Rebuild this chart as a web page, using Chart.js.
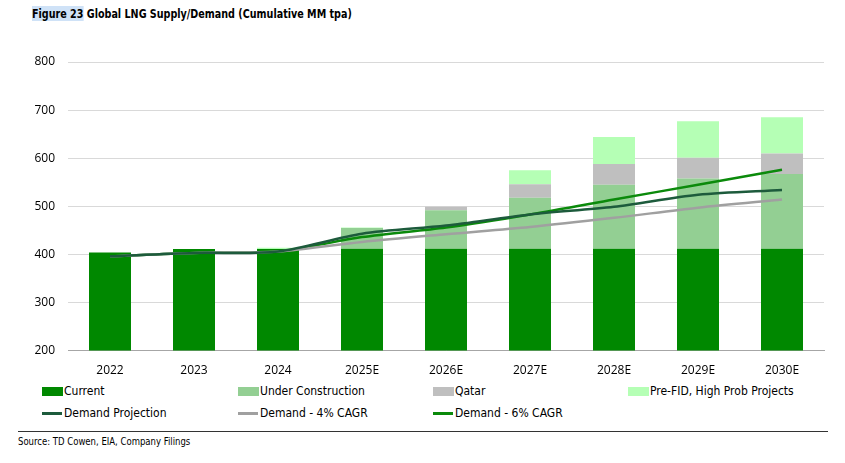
<!DOCTYPE html>
<html>
<head>
<meta charset="utf-8">
<script src="https://cdn.jsdelivr.net/npm/chart.js@4.4.1/dist/chart.umd.min.js"></script>
<style>
	body { margin: 0; background: #fff; width: 845px; height: 463px; overflow: hidden; position: relative; }
	.title { position: absolute; left: 32px; top: 6px; font: bold 13px "Liberation Sans Narrow", "DejaVu Sans Condensed", sans-serif; color: #000; white-space: nowrap; transform: scaleX(0.82); transform-origin: left top; }
	.title .fig { background: #cfe2f7; }
	#chart-box { position: absolute; left: 0; top: 0; width: 845px; height: 383px; }
	.legend { position: absolute; left: 0; top: 384px; width: 845px; font: 12px "Liberation Sans Narrow", "DejaVu Sans Condensed", sans-serif; color: #000; }
	.legend-item { position: absolute; display: flex; align-items: center; white-space: nowrap; }
	.legend-box { width: 21px; height: 9px; margin-right: 1px; }
	.legend-line { width: 20px; height: 3px; margin-right: 2px; }
	.rule { position: absolute; left: 18px; top: 431px; width: 810px; height: 1px; background: #333; }
	.source { position: absolute; left: 18px; top: 435px; font: 11px "Liberation Sans Narrow", "DejaVu Sans Condensed", sans-serif; color: #000; white-space: nowrap; transform: scaleX(0.86); transform-origin: left top; }
</style>
</head>
<body>
<div class="title"><span class="fig">Figure 23</span> Global LNG Supply/Demand (Cumulative MM tpa)</div>
<div id="chart-box"><canvas id="chart"></canvas></div>
<div class="legend" id="legend"></div>
<div class="rule"></div>
<div class="source">Source: TD Cowen, EIA, Company Filings</div>
<script>
// categories and values
var years = ['2022', '2023', '2024', '2025E', '2026E', '2027E', '2028E', '2029E', '2030E'];
var current = [404, 411, 411, 412, 412, 412, 412, 412, 412];
var underConstruction = [0, 0, 0, 43, 80, 106, 133, 146, 155];
var qatar = [0, 0, 0, 0, 7, 28, 43, 43, 43];
var preFid = [0, 0, 3, 1, 0, 29, 56, 76, 75];
var demandProjection = [396, 403, 406, 443, 460, 483, 499, 524, 534];
var demand4 = [396, 403, 406, 426, 442, 457, 476, 497, 514];
var demand6 = [396, 403, 406, 436, 456, 483, 514, 545, 576];
var yTicks = [200, 300, 400, 500, 600, 700, 800];

// bar dataset helper
function barSet(label, data, color) {
	return {
		type: 'bar',
		label: label,
		data: data,
		backgroundColor: color,
		stack: 'supply',
		order: 2,
		categoryPercentage: 1,
		barPercentage: 0.5
	};
}

// line dataset helper, each line gets its own stack so they don't pile up
function lineSet(label, data, color) {
	return {
		type: 'line',
		label: label,
		data: data,
		borderColor: color,
		backgroundColor: color,
		borderWidth: 2.5,
		pointRadius: 0,
		tension: 0.3,
		fill: false,
		stack: label,
		order: 1
	};
}

var datasets = [
	barSet('Current', current, '#008800'),
	barSet('Under Construction', underConstruction, '#93cf93'),
	barSet('Qatar', qatar, '#bfbfbf'),
	barSet('Pre-FID, High Prob Projects', preFid, '#b5ffb5'),
	lineSet('Demand Projection', demandProjection, '#1d5b3c'),
	lineSet('Demand - 4% CAGR', demand4, '#a0a0a0'),
	lineSet('Demand - 6% CAGR', demand6, '#0b8a0b')
];

var tickFont = { family: '"Open Sans", "Liberation Sans", sans-serif', size: 12 };

var chart = new Chart(document.getElementById('chart'), {
	data: { labels: years, datasets: datasets },
	options: {
		responsive: true,
		maintainAspectRatio: false,
		animation: false,
		layout: { padding: { top: 62, right: 21, left: 0, bottom: 0 } },
		plugins: {
			legend: { display: false },
			tooltip: { enabled: false }
		},
		scales: {
			x: {
				stacked: true,
				grid: { display: false },
				border: { color: '#a6a6a6', width: 1 },
				ticks: { color: '#000', font: tickFont, padding: 5 }
			},
			y: {
				stacked: true,
				min: 200,
				max: 800,
				afterBuildTicks: function(scale) {
					scale.ticks = yTicks.map(function(v) { return { value: v }; });
				},
				afterFit: function(scale) { scale.width = 68; },
				grid: { color: '#d9d9d9', lineWidth: 1, drawTicks: false },
				border: { display: false },
				ticks: { color: '#000', font: tickFont, padding: 13 }
			}
		}
	}
});

// legend laid out in four columns like the original
var legendEl = document.getElementById('legend');
var colX = [42, 238, 433, 628];
chart.data.datasets.forEach(function(ds, i) {
	var item = document.createElement('div');
	item.className = 'legend-item';
	var row = i < 4 ? 0 : 1;
	var col = i < 4 ? i : i - 4;
	item.style.left = colX[col] + 'px';
	item.style.top = (row * 22) + 'px';
	var mark = document.createElement('span');
	mark.className = ds.type === 'bar' ? 'legend-box' : 'legend-line';
	mark.style.background = ds.type === 'bar' ? ds.backgroundColor : ds.borderColor;
	var text = document.createElement('span');
	text.textContent = ds.label;
	item.appendChild(mark);
	item.appendChild(text);
	legendEl.appendChild(item);
});
</script>
</body>
</html>
